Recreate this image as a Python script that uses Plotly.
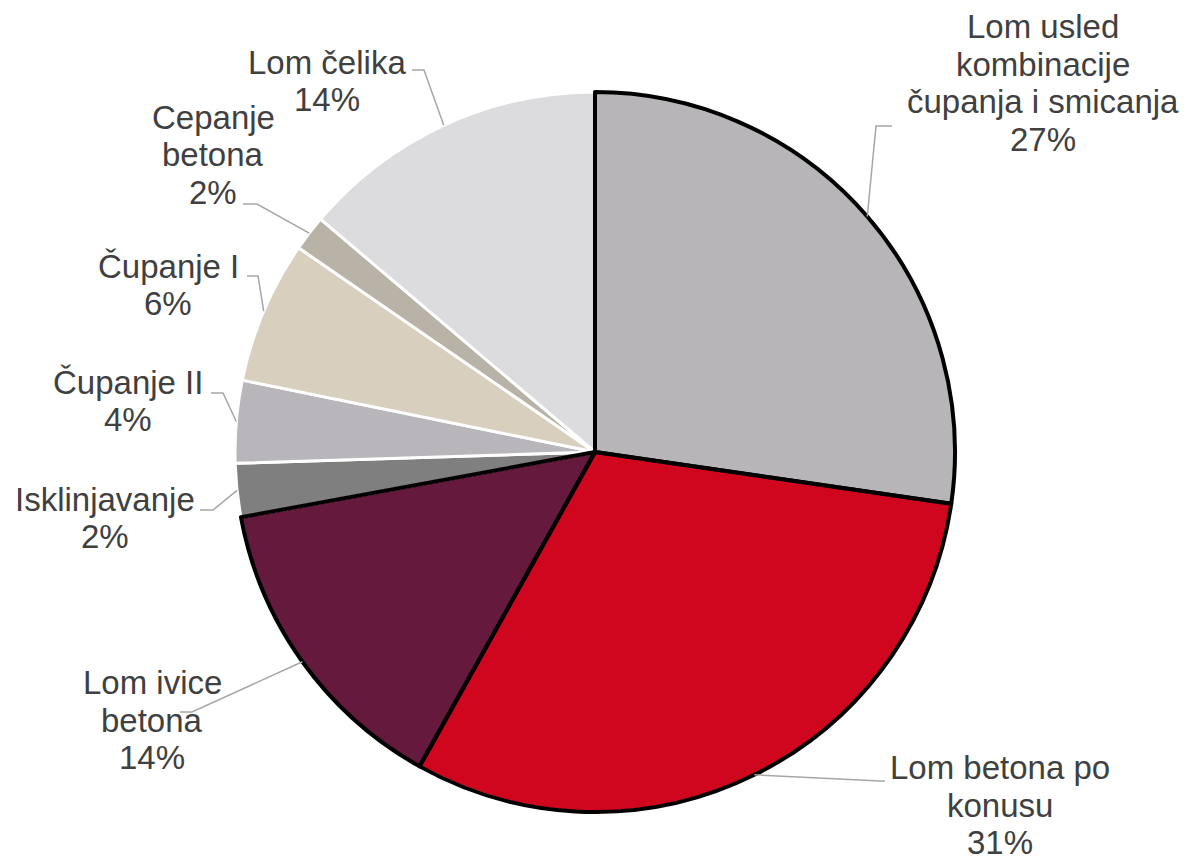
import math
import plotly.graph_objects as go

# ---- data ----
labels = [
    "Lom usled<br>kombinacije<br>čupanja i smicanja",
    "Lom betona po<br>konusu",
    "Lom ivice<br>betona",
    "Isklinjavanje",
    "Čupanje II",
    "Čupanje I",
    "Cepanje<br>betona",
    "Lom čelika",
]
values = [27.3, 30.8, 14.0, 2.4, 3.7, 6.4, 1.6, 13.8]
pct_labels = ["27%", "31%", "14%", "2%", "4%", "6%", "2%", "14%"]
colors = ["#B7B5B8", "#D0061F", "#65193C", "#7F7F7F",
          "#B8B6BA", "#D8CFBF", "#B8B3A6", "#DCDBDE"]
black_border = [True, True, True, False, False, False, False, False]

# ---- layout (pixels) ----
W, H = 1190, 861
CX, CY, R = 595, 452, 360
LINE_H = 37.5
FONT_SIZE = 33
# label centre (px) and leader elbow/end (px)
label_pos = [(1043, 83), (1000, 805), (152, 720), (105, 518),
             (128, 401), (168, 285), (213, 155), (327, 81)]
leader = [
    [(876, 126), (892, 126)],
    [(880, 781), (885, 781)],
    [(192, 712), (180, 712)],
    [(213, 510), (200, 510)],
    [(223, 393), (211, 393)],
    [(258, 276), (247, 276)],
    [(257, 204), (243, 204)],
    [(424, 70), (412, 70)],
]

def px(x):
    return x / W

def py(y):
    return 1 - y / H

domain_x = [px(CX - R), px(CX + R)]
domain_y = [py(CY + R), py(CY - R)]

fig = go.Figure()
fig.add_trace(go.Pie(
    labels=labels, values=values, sort=False, direction="clockwise",
    rotation=0, domain=dict(x=domain_x, y=domain_y),
    marker=dict(colors=colors, line=dict(color="white", width=3)),
    textinfo="none", showlegend=False, automargin=False,
))
# black outlines overlay
fig.add_trace(go.Pie(
    labels=labels, values=values, sort=False, direction="clockwise",
    rotation=0, domain=dict(x=domain_x, y=domain_y),
    marker=dict(colors=["rgba(0,0,0,0)"] * len(values),
                line=dict(color=["black" if b else "rgba(0,0,0,0)" for b in black_border],
                          width=[4 if b else 0 for b in black_border])),
    textinfo="none", showlegend=False, hoverinfo="skip", automargin=False,
))

total = sum(values)
cum = 0.0
shapes = []
annotations = []
for i, v in enumerate(values):
    mid = (cum + v / 2) / total * 2 * math.pi
    cum += v
    sx = CX + R * math.sin(mid)
    sy = CY - R * math.cos(mid)
    (ex1, ey1), (ex2, ey2) = leader[i]
    path = f"M {px(sx)},{py(sy)} L {px(ex1)},{py(ey1)} L {px(ex2)},{py(ey2)}"
    shapes.append(dict(type="path", path=path, xref="paper", yref="paper",
                       line=dict(color="#A6A6A6", width=1.5)))
    lx, ly = label_pos[i]
    lines = labels[i].split("<br>") + [pct_labels[i]]
    n = len(lines)
    for k, t in enumerate(lines):
        yy = ly + (k - (n - 1) / 2) * LINE_H
        annotations.append(dict(
            x=px(lx), y=py(yy), xref="paper", yref="paper",
            text=t, showarrow=False,
            xanchor="center", yanchor="middle", align="center",
            font=dict(family="Liberation Sans, Arial, sans-serif",
                      size=FONT_SIZE, color="#404040"),
        ))

fig.update_layout(
    width=W, height=H,
    margin=dict(l=0, r=0, t=0, b=0),
    paper_bgcolor="white", plot_bgcolor="white",
    shapes=shapes, annotations=annotations,
)

fig.write_html("out.html")
